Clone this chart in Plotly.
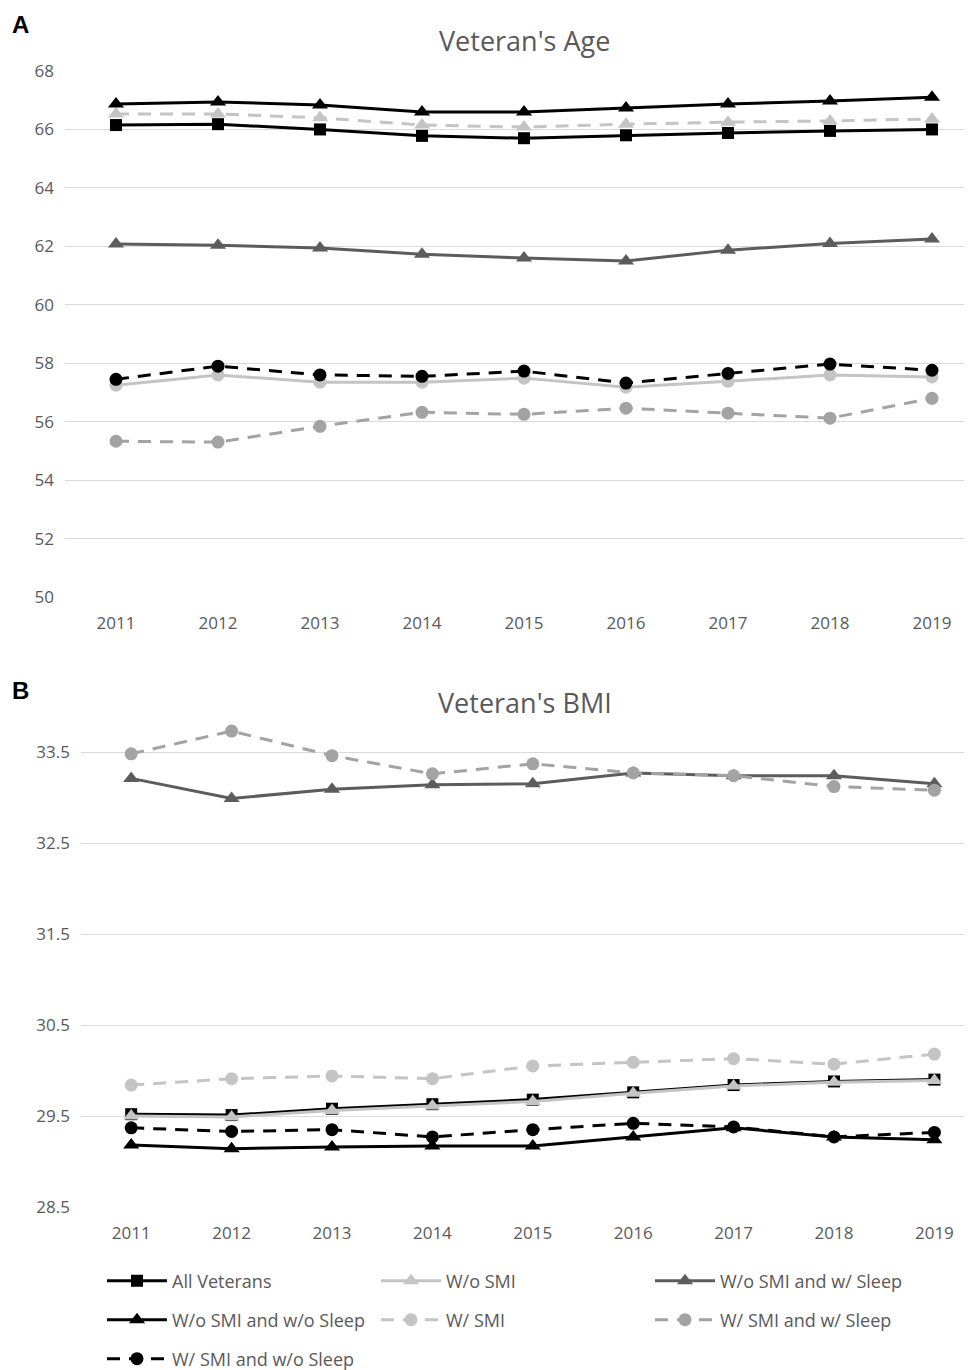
import plotly.graph_objects as go

years = [2011, 2012, 2013, 2014, 2015, 2016, 2017, 2018, 2019]
series_names = ["All Veterans", "W/o SMI", "W/o SMI and w/ Sleep", "W/o SMI and w/o Sleep",
                "W/ SMI", "W/ SMI and w/ Sleep", "W/ SMI and w/o Sleep"]

# Panel A: Veteran's Age
age_all = [66.15, 66.18, 66.00, 65.78, 65.70, 65.80, 65.88, 65.95, 66.00]
age_wo_smi = [66.53, 66.53, 66.40, 66.15, 66.08, 66.18, 66.25, 66.29, 66.36]
age_wo_smi_w_sleep = [62.08, 62.04, 61.94, 61.73, 61.60, 61.50, 61.87, 62.10, 62.25]
age_wo_smi_wo_sleep = [66.87, 66.94, 66.84, 66.60, 66.60, 66.73, 66.87, 66.97, 67.10]
age_w_smi = [57.25, 57.60, 57.35, 57.35, 57.49, 57.18, 57.38, 57.60, 57.53]
age_w_smi_w_sleep = [55.33, 55.30, 55.84, 56.32, 56.25, 56.46, 56.29, 56.12, 56.80]
age_w_smi_wo_sleep = [57.45, 57.90, 57.60, 57.55, 57.73, 57.32, 57.65, 57.97, 57.76]

# Panel B: Veteran's BMI
bmi_all = [29.52, 29.51, 29.58, 29.63, 29.68, 29.76, 29.84, 29.88, 29.90]
bmi_wo_smi = [29.50, 29.49, 29.56, 29.61, 29.66, 29.75, 29.83, 29.87, 29.89]
bmi_wo_smi_w_sleep = [33.21, 32.99, 33.09, 33.14, 33.15, 33.27, 33.24, 33.24, 33.15]
bmi_wo_smi_wo_sleep = [29.18, 29.14, 29.16, 29.17, 29.17, 29.27, 29.37, 29.27, 29.24]
bmi_w_smi = [29.84, 29.91, 29.94, 29.91, 30.05, 30.09, 30.13, 30.07, 30.18]
bmi_w_smi_w_sleep = [33.48, 33.73, 33.46, 33.26, 33.37, 33.27, 33.24, 33.12, 33.08]
bmi_w_smi_wo_sleep = [29.37, 29.33, 29.35, 29.27, 29.35, 29.42, 29.38, 29.27, 29.32]

age_ticks = [50, 52, 54, 56, 58, 60, 62, 64, 66, 68]
bmi_ticks = [28.5, 29.5, 30.5, 31.5, 32.5, 33.5]

BLACK = "#000000"
LIGHT = "#c4c4c4"
DARK = "#5c5c5c"
MID = "#a3a3a3"
DASH = "13px,9px"

style_b = [
    (BLACK, "solid", "square"),
    (LIGHT, "solid", "triangle-up"),
    (DARK, "solid", "triangle-up"),
    (BLACK, "solid", "triangle-up"),
    (LIGHT, DASH, "circle"),
    (MID, DASH, "circle"),
    (BLACK, DASH, "circle"),
]
style_a = list(style_b)
style_a[1] = (LIGHT, DASH, "triangle-up")
style_a[4] = (LIGHT, "solid", "circle")

marker_size = {"square": 12, "triangle-up": 14, "circle": 13}
legend_rows = ["legend", "legend", "legend", "legend2", "legend2", "legend2", "legend3"]

age_data = [age_all, age_wo_smi, age_wo_smi_w_sleep, age_wo_smi_wo_sleep,
            age_w_smi, age_w_smi_w_sleep, age_w_smi_wo_sleep]
bmi_data = [bmi_all, bmi_wo_smi, bmi_wo_smi_w_sleep, bmi_wo_smi_wo_sleep,
            bmi_w_smi, bmi_w_smi_w_sleep, bmi_w_smi_wo_sleep]

fig = go.Figure()
for i in range(7):
    c, d, s = style_a[i]
    fig.add_trace(go.Scatter(
        x=years, y=age_data[i], name=series_names[i], mode="lines+markers",
        line=dict(color=c, dash=d, width=3), marker=dict(symbol=s, size=marker_size[s], color=c),
        xaxis="x", yaxis="y", showlegend=False))
for i in range(7):
    c, d, s = style_b[i]
    fig.add_trace(go.Scatter(
        x=years, y=bmi_data[i], name=series_names[i], mode="lines+markers",
        line=dict(color=c, dash=d, width=3), marker=dict(symbol=s, size=marker_size[s], color=c),
        xaxis="x2", yaxis="y2", showlegend=True, legend=legend_rows[i]))

# page body has an 8px margin, so the figure is laid out 8px in from the window edge
W, H = 964, 1362
FONT = "Open Sans, sans-serif"
tick_font = dict(family=FONT, size=17, color="#595959")
grid = "#d9d9d9"

common_x = dict(tickmode="array", tickvals=years, ticktext=[str(y) for y in years],
                showgrid=False, zeroline=False, showline=False, ticks="",
                tickfont=tick_font, ticklabelstandoff=14, fixedrange=True, automargin=False)
common_y = dict(showgrid=True, gridcolor=grid, gridwidth=1, zeroline=False, showline=False,
                ticks="", tickfont=tick_font, ticklabelstandoff=10, tickmode="array",
                fixedrange=True, automargin=False)

def leg(ypix):
    return dict(orientation="h", x=94 / W, xanchor="left", y=1 - ypix / H, yanchor="middle",
                font=dict(family=FONT, size=18, color="#595959"),
                entrywidth=199, entrywidthmode="pixels", itemwidth=60,
                bgcolor="rgba(0,0,0,0)")

fig.update_layout(
    width=W, height=H,
    margin=dict(l=0, r=0, t=0, b=0, autoexpand=False),
    paper_bgcolor="white", plot_bgcolor="white",
    font=dict(family=FONT, color="#595959"),
    xaxis=dict(domain=[57 / W, 1], range=[2010.5, 2010.5 + 907 / 102], anchor="y", **common_x),
    yaxis=dict(domain=[1 - 589 / H, 1 - 63 / H], range=[50, 68], anchor="x",
               tickvals=age_ticks, ticktext=[str(v) for v in age_ticks], **common_y),
    xaxis2=dict(domain=[73 / W, 1], range=[2010.5, 2010.5 + 891 / 100.4], anchor="y2", **common_x),
    yaxis2=dict(domain=[1 - 1199 / H, 1 - 698.5 / H], range=[28.5, 34.0], anchor="x2",
                tickvals=bmi_ticks, ticktext=[f"{v:.1f}" for v in bmi_ticks], **common_y),
    legend=leg(1273), legend2=leg(1312), legend3=leg(1351),
    annotations=[
        dict(text="Veteran's Age", x=516 / W, y=1 - 33 / H, xref="paper", yref="paper",
             xanchor="center", yanchor="middle",
             showarrow=False, font=dict(size=27, color="#595959", family=FONT)),
        dict(text="Veteran's BMI", x=517 / W, y=1 - 694 / H, xref="paper", yref="paper",
             xanchor="center", yanchor="middle",
             showarrow=False, font=dict(size=27, color="#595959", family=FONT)),
        dict(text="<b>A</b>", x=2 / W, y=1 - 17 / H, xref="paper", yref="paper",
             xanchor="left", yanchor="middle",
             showarrow=False, font=dict(size=24, color="black", family="Liberation Sans, Arial, sans-serif")),
        dict(text="<b>B</b>", x=2 / W, y=1 - 682 / H, xref="paper", yref="paper",
             xanchor="left", yanchor="middle",
             showarrow=False, font=dict(size=24, color="black", family="Liberation Sans, Arial, sans-serif")),
    ],
)

fig.write_html("out.html")
